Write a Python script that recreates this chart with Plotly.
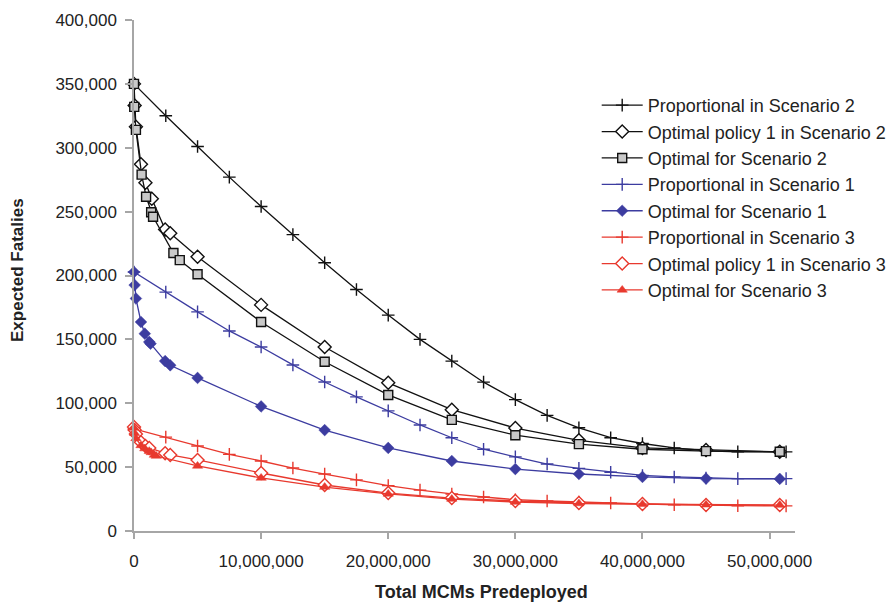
import plotly.graph_objects as go

M = 1_000_000

# Proportional allocations (every 2.5 million MCMs)
prop_x = [0, 2.5, 5, 7.5, 10, 12.5, 15, 17.5, 20, 22.5, 25, 27.5, 30, 32.5,
          35, 37.5, 40, 42.5, 45, 47.5, 51.3]
prop_s2 = [350000, 325000, 301000, 277000, 254000, 232000, 210000, 189000, 169000,
           150000, 133000, 116500, 102800, 90500, 80800, 73000, 68500, 65000,
           62800, 62000, 61900]
prop_s1 = [202700, 187000, 171500, 156600, 144000, 130000, 116600, 105000, 94000,
           83000, 73000, 64000, 58000, 52400, 49000, 46000, 43500, 42300, 41500,
           41000, 41000]
prop_s3 = [80000, 73500, 66500, 60000, 54800, 49300, 44600, 40000, 35500, 32000,
           29000, 26600, 24500, 23500, 22700, 21900, 21100, 20500, 20300, 19800, 19700]

# Optimal policy 1 evaluated in Scenario 2
opt1_s2_x = [0, 0.05, 0.15, 0.55, 0.9, 1.4, 2.45, 2.85, 5, 10, 15, 20, 25, 30,
             35, 40, 45, 50.8]
opt1_s2 = [350000, 333000, 316500, 287000, 272600, 260000, 236000, 233000, 214700,
           177000, 144000, 116000, 95000, 80600, 71000, 65000, 63400, 62000]

# Optimal for Scenario 2
opt_s2_x = [0, 0.02, 0.15, 0.6, 0.95, 1.35, 1.5, 3.1, 3.6, 5, 10, 15, 20, 25, 30,
            35, 40, 45, 50.8]
opt_s2 = [350000, 332000, 314000, 279000, 261700, 249500, 246000, 217600, 212000,
          201000, 163600, 132500, 106500, 87000, 75000, 68000, 64000, 62500, 62000]

# Optimal for Scenario 1
opt_s1_x = [0, 0.05, 0.15, 0.55, 0.85, 1.2, 1.3, 2.45, 2.85, 5, 10, 15, 20, 25, 30,
            35, 40, 45, 50.8]
opt_s1 = [202700, 192500, 182000, 163600, 154500, 148000, 146600, 133000, 129700,
          119800, 97500, 79000, 65000, 54800, 48500, 44600, 42300, 41000, 40800]

# Optimal policy 1 evaluated in Scenario 3
opt1_s3_x = [0, 0.05, 0.15, 0.55, 0.9, 1.2, 2.45, 2.85, 5, 10, 15, 20, 25, 30,
             35, 40, 45, 50.8]
opt1_s3 = [81400, 79000, 76000, 69500, 66500, 65000, 60800, 59500, 55600, 45400,
           36000, 29700, 25800, 23500, 21900, 21100, 20400, 20300]

# Optimal for Scenario 3
opt_s3_x = [0, 0.05, 0.15, 0.55, 0.85, 1.2, 1.35, 1.6, 1.75, 5, 10, 15, 20, 25, 30,
            35, 40, 45, 50.8]
opt_s3 = [80600, 76500, 72500, 67000, 64500, 62500, 61500, 59500, 58700, 50900,
          41500, 34400, 29000, 25000, 22700, 21500, 21000, 20500, 20300]

BLACK = "#111111"
BLUE = "#3c3ca0"
RED = "#e8392e"
GREY_FILL = "#c9c9c9"

fig = go.Figure()


def add(name, xs, ys, color, symbol, size, fill=None, mline=1.4):
    fig.add_trace(go.Scatter(
        x=[v * M for v in xs], y=ys, name=name, legendgroup=name,
        mode="lines+markers",
        line=dict(color=color, width=1.3),
        marker=dict(symbol=symbol, size=size,
                    color=fill if fill is not None else color,
                    line=dict(color=color, width=mline)),
        cliponaxis=False,
    ))


add("Proportional in Scenario 2", prop_x, prop_s2, BLACK, "cross-thin", 9)
add("Optimal policy 1 in Scenario 2", opt1_s2_x, opt1_s2, BLACK, "diamond", 10, fill="white")
add("Optimal for Scenario 2", opt_s2_x, opt_s2, BLACK, "square", 9, fill=GREY_FILL)
add("Proportional in Scenario 1", prop_x, prop_s1, BLUE, "cross-thin", 9)
add("Optimal for Scenario 1", opt_s1_x, opt_s1, BLUE, "diamond", 9, mline=0.5)
add("Proportional in Scenario 3", prop_x, prop_s3, RED, "cross-thin", 9)
add("Optimal policy 1 in Scenario 3", opt1_s3_x, opt1_s3, RED, "diamond", 10, fill="white")
add("Optimal for Scenario 3", opt_s3_x, opt_s3, RED, "triangle-up", 9, mline=0.5)

FONT = "Liberation Sans, Arial, sans-serif"
AXIS_GREY = "#a6a6a6"
TEXT = "#222222"

fig.update_layout(
    width=892, height=602,
    margin=dict(l=134, r=97, t=20, b=71, autoexpand=False),
    paper_bgcolor="white", plot_bgcolor="white",
    font=dict(family=FONT, size=17, color=TEXT),
    showlegend=True,
    legend=dict(x=0.7, y=0.869, xanchor="left", yanchor="top",
                font=dict(size=18, color=TEXT),
                bgcolor="rgba(0,0,0,0)", tracegroupgap=0, itemwidth=41),
    xaxis=dict(range=[0, 52 * M], tickvals=[0, 10 * M, 20 * M, 30 * M, 40 * M, 50 * M],
               tickformat=",d", showgrid=False, zeroline=False,
               showline=True, linecolor=AXIS_GREY, linewidth=1.5,
               ticks="outside", tickcolor=AXIS_GREY, ticklen=6, tickwidth=1.5,
               tickfont=dict(size=17), ticklabelstandoff=8),
    yaxis=dict(range=[0, 400000], dtick=50000, tickformat=",d", showgrid=False,
               zeroline=False, showline=True, linecolor=AXIS_GREY, linewidth=1.5,
               ticks="outside", tickcolor=AXIS_GREY, ticklen=7, tickwidth=1.5,
               tickfont=dict(size=17), ticklabelstandoff=5),
    annotations=[
        dict(text="<b>Total MCMs Predeployed</b>", xref="paper", yref="paper",
             x=(481 - 134) / 661, y=(531 - 592) / 511, xanchor="center",
             yanchor="middle", showarrow=False, font=dict(size=18, color=TEXT)),
        dict(text="<b>Expected Fatalies</b>", xref="paper", yref="paper",
             x=(17 - 134) / 661, y=(531 - 270) / 511, xanchor="center",
             yanchor="middle", textangle=-90, showarrow=False,
             font=dict(size=17, color=TEXT)),
    ],
)

fig.write_html("out.html")
